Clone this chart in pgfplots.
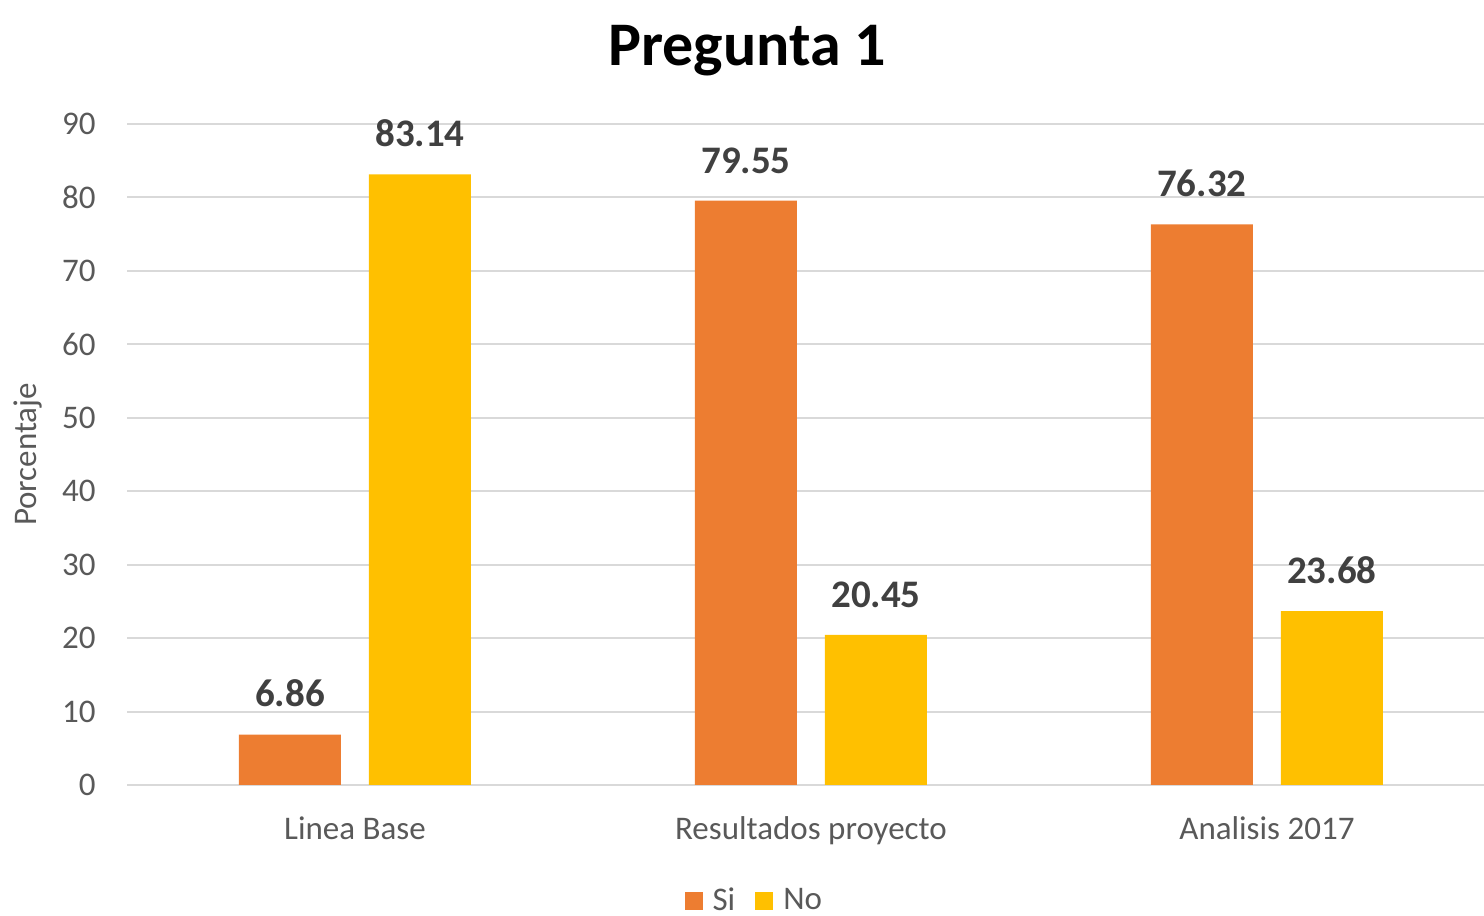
\documentclass[border=0pt]{standalone}
\usepackage{pgfplots}
\pgfplotsset{compat=1.18}
\usepackage{fontspec}
\setmainfont{Carlito}
\definecolor{siorange}{HTML}{ED7D31}
\definecolor{noyellow}{HTML}{FFC000}
\definecolor{gridgray}{HTML}{D9D9D9}
\definecolor{labelgray}{HTML}{595959}
\definecolor{valgray}{HTML}{404040}
\begin{document}
\begin{tikzpicture}
\path[use as bounding box] (0,0) rectangle (742pt,458pt);
\begin{axis}[
    at={(63.5pt,65.5pt)}, anchor=south west,
    scale only axis,
    width=678.5pt, height=330.5pt,
    ybar, ybar=14pt, bar width=51pt,
    xmin=-0.5, xmax=2.476,
    ymin=0, ymax=90,
    ytick={0,10,...,90},
    xtick={0,1,2},
    xticklabels={Linea Base, Resultados proyecto, Analisis 2017},
    major tick length=0pt,
    ymajorgrids,
    grid style={gridgray, line width=1pt},
    axis line style={draw=none},
    axis x line*=bottom,
    axis y line*=left,
    /pgf/number format/assume math mode=true,
    tick label style={font=\fontsize{16.5}{19}\selectfont, text=labelgray},
    yticklabel style={anchor=east, inner sep=0pt, xshift=-15.5pt},
    xticklabel style={anchor=base, inner sep=0pt, yshift=-27.5pt},
    ylabel={Porcentaje},
    ylabel style={at={(axis description cs:-0.073,0.5)}, anchor=center,
        font=\fontsize{16.5}{19}\selectfont, text=labelgray},
    title={Pregunta 1},
    title style={at={(axis description cs:0.457,1.0696)}, anchor=base,
        font=\fontsize{31}{36}\bfseries},
    nodes near coords={\pgfmathprintnumber[fixed,fixed zerofill,precision=2]{\pgfplotspointmeta}},
    nodes near coords style={anchor=south, inner sep=0pt, yshift=13.5pt,
        font=\fontsize{19.5}{22}\bfseries, text=valgray},
    legend columns=2,
    legend style={at={(axis description cs:0.463,-0.175)}, anchor=center,
        draw=none, fill=none, font=\fontsize{16.5}{19}\selectfont, text=labelgray,
        /tikz/column 2/.style={column sep=8pt}},
    legend image code/.code={\fill[#1,draw=none] (0pt,-4.5pt) rectangle (9pt,4.5pt); \path (12pt,0pt);},
]
\draw[gridgray, line width=1pt] (axis cs:-0.5,0) -- (axis cs:2.476,0);
\addplot[fill=siorange, draw=none] coordinates {(0,6.86) (1,79.55) (2,76.32)};
\addplot[fill=noyellow, draw=none] coordinates {(0,83.14) (1,20.45) (2,23.68)};
\legend{Si, No}
\end{axis}
\end{tikzpicture}
\end{document}
